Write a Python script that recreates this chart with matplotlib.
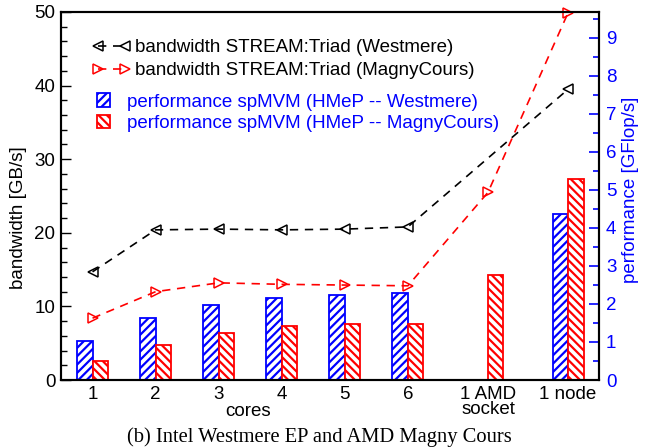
import matplotlib.pyplot as plt
from matplotlib.ticker import MultipleLocator
import numpy as np

plt.rcParams['font.family'] = ['Liberation Sans', 'DejaVu Sans']
plt.rcParams['hatch.linewidth'] = 1.6

# categories and their x positions
labels = ['1', '2', '3', '4', '5', '6', '1 AMD\nsocket', '1 node']
pos = [1, 2, 3, 4, 5, 6, 7.27, 8.54]

# bandwidth STREAM:Triad [GB/s]
bw_west = [14.7, 20.4, 20.5, 20.4, 20.5, 20.8, 39.5]
bw_west_pos = [1, 2, 3, 4, 5, 6, 8.54]
bw_magny = [8.4, 12.0, 13.2, 13.0, 12.9, 12.8, 25.5, 49.9]

# performance spMVM [GFlop/s]
perf_west = [1.03, 1.62, 1.98, 2.16, 2.24, 2.29, 4.36]
perf_west_pos = [1, 2, 3, 4, 5, 6, 8.54]
perf_magny = [0.51, 0.92, 1.23, 1.42, 1.48, 1.48, 2.77, 5.29]

blue = '#0000ff'
red = '#ff0000'
w = 0.245
fs = 13.5

fig = plt.figure(figsize=(6.49, 4.48), dpi=100)
ax = fig.add_axes([61/649, 68/448, 538/649, 368/448])
ax2 = ax.twinx()

# bars on the right axis
b1 = ax2.bar(np.array(perf_west_pos) - w/2, perf_west, w, facecolor='white',
             edgecolor=blue, hatch='////', linewidth=1.3, zorder=1)
b2 = ax2.bar(np.array(pos) + w/2, perf_magny, w, facecolor='white',
             edgecolor=red, hatch='\\\\\\\\', linewidth=1.3, zorder=1)

# lines on the left axis, keep them above the bars
ax.set_zorder(ax2.get_zorder() + 1)
ax.patch.set_visible(False)
l1, = ax.plot(bw_west_pos, bw_west, color='black', ls=(0, (5, 4)), lw=1.2,
              marker='<', ms=6.5, mfc='none', mew=1.1, clip_on=False)
l2, = ax.plot(pos, bw_magny, color=red, ls=(0, (5, 4)), lw=1.2,
              marker='>', ms=6.5, mfc='none', mew=1.1, clip_on=False)

ax.set_xlim(0.5, 9.03)
ax.set_ylim(0, 50)
ax2.set_ylim(0, 9.68)

ax.set_xticks(pos)
ax.set_xticklabels(labels, fontsize=fs, linespacing=0.9)
ax.tick_params(axis='x', length=0, pad=4)
ax.yaxis.set_major_locator(MultipleLocator(10))
ax.yaxis.set_minor_locator(MultipleLocator(2))
ax.tick_params(axis='y', which='major', direction='in', length=7, width=1, labelsize=fs, pad=4)
ax.tick_params(axis='y', which='minor', direction='in', length=4, width=1)

ax2.yaxis.set_major_locator(MultipleLocator(1))
ax2.yaxis.set_minor_locator(MultipleLocator(0.5))
ax2.tick_params(axis='y', which='major', direction='in', length=7, width=1.2,
                labelsize=fs, colors=blue, pad=5)
ax2.tick_params(axis='y', which='minor', direction='in', length=4, width=1.2, colors=blue)

for a in (ax, ax2):
    for s in a.spines.values():
        s.set_linewidth(1.5)

ax.set_ylabel('bandwidth [GB/s]', fontsize=fs)
ax.yaxis.set_label_coords(-0.064, 0.44)
ax2.set_ylabel('performance [GFlop/s]', fontsize=fs, color=blue)
ax2.yaxis.set_label_coords(1.043, 0.516)

ax.text(3.46, -0.062, 'cores', transform=ax.get_xaxis_transform(),
        ha='center', va='top', fontsize=fs)

leg1 = ax.legend([l1, l2], ['bandwidth STREAM:Triad (Westmere)',
                            'bandwidth STREAM:Triad (MagnyCours)'],
                 loc='upper left', bbox_to_anchor=(0.045, 0.946), frameon=False,
                 fontsize=fs, numpoints=2, handlelength=2.0, handletextpad=0.25,
                 labelspacing=0.3, borderaxespad=0)
ax.add_artist(leg1)
leg2 = ax.legend([b1, b2], ['performance spMVM (HMeP -- Westmere)',
                            'performance spMVM (HMeP -- MagnyCours)'],
                 loc='upper left', bbox_to_anchor=(0.053, 0.80), frameon=False,
                 fontsize=fs, handlelength=0.7, handleheight=0.75, handletextpad=0.9,
                 labelspacing=0.22, borderaxespad=0)
for t in leg2.get_texts():
    t.set_color(blue)

fig.text(0.492, 11/448, '(b) Intel Westmere EP and AMD Magny Cours',
         ha='center', va='center', fontsize=14.8, family='Liberation Serif')

fig.savefig('out.png', dpi=100)
